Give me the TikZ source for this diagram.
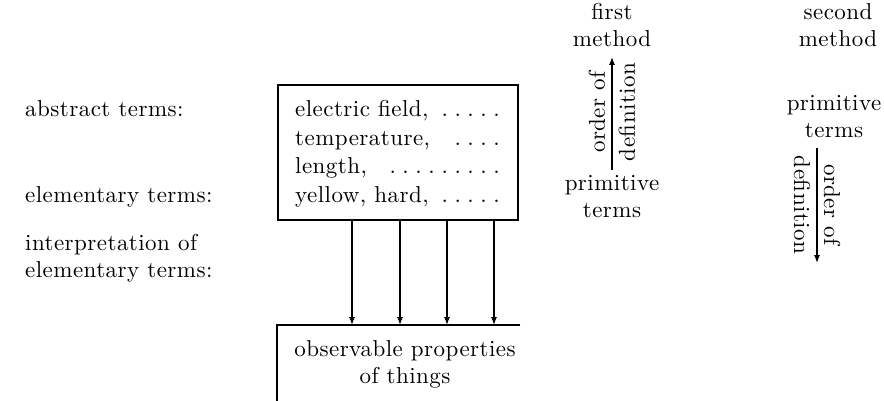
\documentclass[tikz,border=0pt]{standalone}
\usepackage{fontspec}
\setmainfont{lmroman10-regular}[Extension=.otf,LetterSpace=2]
\usetikzlibrary{arrows.meta}
\begin{document}
\begin{tikzpicture}[x=1pt,y=-1pt,
  txt/.style={inner sep=0pt,font=\fontsize{23}{27}\selectfont},
  frame/.style={draw,line width=1.1pt},
  arr/.style={line width=1.2pt,-{Latex[length=8pt,width=6pt]}}]
\useasboundingbox (0,0) rectangle (884,401);
% left labels
\node[txt,anchor=base west] (abs) at (25,117) {abstract terms:};
\node[txt,anchor=base west] (ele) at (25,203) {elementary terms:};
\node[txt,anchor=base west] (int1) at (25,250) {interpretation of};
\node[txt,anchor=base west] (int2) at (25,277) {elementary terms:};
% top box
\node[frame,minimum width=240pt,minimum height=135pt,inner sep=0pt] (top) at (398,152.5) {};
\newcommand{\dotrow}[1]{\makebox[220pt][l]{#1\leaders\hbox to 13pt{\hss.\hss}\hfill}}
\node[txt,anchor=base west] (t1) at (295,117) {\dotrow{electric field,~}};
\node[txt,anchor=base west] (t2) at (295,145.5) {\dotrow{temperature,~}};
\node[txt,anchor=base west] (t3) at (295,174) {\dotrow{length,~}};
\node[txt,anchor=base west] (t4) at (295,203) {\dotrow{yellow, hard,~}};
% bottom box (only top and left edges visible)
\node[inner sep=0pt,minimum width=243pt,minimum height=100pt,anchor=north west] (bot) at (277,325) {};
\draw[line width=1.1pt] (bot.north east) -- (bot.north west) -- (277,401);
\node[txt,align=center,anchor=base] (obs) at (405,383) {observable properties\\of things};
% arrows
\foreach \x in {352,400,447,494}
  \draw[arr] (\x,0 |- top.south) -- (\x,0 |- bot.north);
% first method
\node[txt,align=center,anchor=base] (fm) at (612,47) {first\\method};
\node[txt,align=center,anchor=base] (pt1) at (612,217) {primitive\\terms};
\coordinate (u1) at (612,170);
\coordinate (u2) at (612,57);
\draw[arr] (u1) -- (u2);
\node[txt,align=center,rotate=90,font=\fontsize{23}{30}\selectfont] (od1) at (612,112) {order of\\definition};
% second method
\node[txt,align=center,anchor=base] (sm) at (838,47) {second\\method};
\node[txt,align=center,anchor=base] (pt2) at (834,138) {primitive\\terms};
\coordinate (d1) at (817,148);
\coordinate (d2) at (817,263);
\draw[arr] (d1) -- (d2);
\node[txt,align=center,rotate=-90,font=\fontsize{23}{30}\selectfont] (od2) at (817,205) {order of\\definition};
\end{tikzpicture}
\end{document}
